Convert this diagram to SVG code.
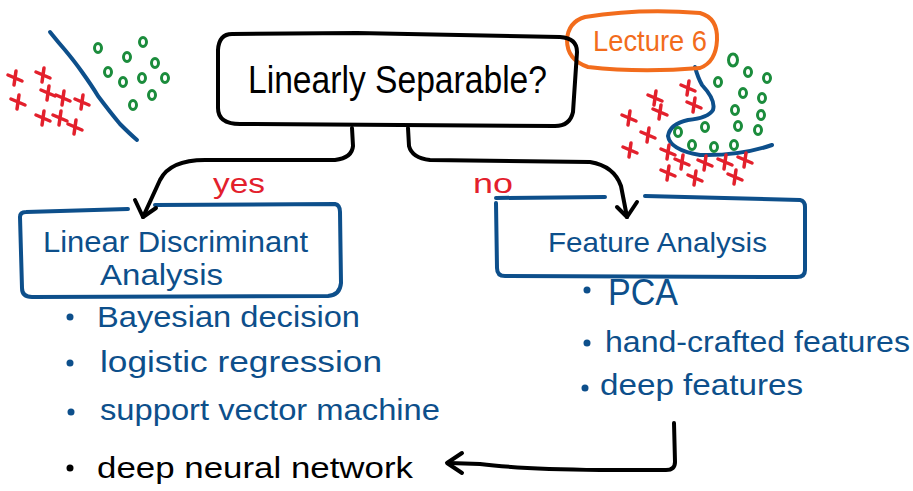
<svg xmlns="http://www.w3.org/2000/svg" width="913" height="491" viewBox="0 0 913 491">
<style>
.ink{fill:none;stroke-linecap:round;stroke-linejoin:round}
.k{stroke:#000;stroke-width:4}
.b{stroke:#0d4f8b;stroke-width:4}
.t{font-family:"Liberation Sans",Arial,sans-serif}
.bt{fill:#0d4f8b}
.red{stroke:#e3202c;stroke-width:3.5;fill:none;stroke-linecap:round}
.grn{stroke:#1b8c3c;stroke-width:3;fill:none}
</style>
<defs>
<path id="x" d="M-7,-3 L7,3 M1,-7 L-1,7"/>
<ellipse id="o" rx="3.5" ry="4.5"/>
</defs>
<rect width="913" height="491" fill="#fff"/>

<g id="scatter-left">
<path d="M50 32 Q58 42 65 50 Q75 62 82 72 Q92 86 98 96 Q110 112 120 124 Q130 134 137 140" class="ink" stroke="#0d4f8b" stroke-width="4"/>
<g class="grn">
<use href="#o" x="98" y="48"/><use href="#o" x="143" y="42"/><use href="#o" x="127" y="57"/><use href="#o" x="155" y="63"/>
<use href="#o" x="108" y="72"/><use href="#o" x="123" y="82"/><use href="#o" x="142" y="78"/><use href="#o" x="165" y="78"/>
<use href="#o" x="152" y="95"/><use href="#o" x="133" y="105"/>
</g>
<g class="red">
<use href="#x" x="15" y="78"/><use href="#x" x="43" y="75"/><use href="#x" x="18" y="102"/><use href="#x" x="48" y="93"/>
<use href="#x" x="63" y="98"/><use href="#x" x="82" y="102"/><use href="#x" x="43" y="118"/><use href="#x" x="60" y="118"/><use href="#x" x="75" y="127"/>
</g>
</g>

<g id="scatter-right">
<path d="M695 67 Q698 78 702 85 Q716 100 713 110 Q708 118 688 120 Q670 124 668 136 Q670 150 700 155 Q740 156 772 145" class="ink" stroke="#0d4f8b" stroke-width="4"/>
<g class="grn">
<ellipse cx="733" cy="60" rx="4.5" ry="6"/>
<use href="#o" x="748" y="72"/><use href="#o" x="767" y="78"/><use href="#o" x="718" y="82"/><use href="#o" x="743" y="93"/>
<use href="#o" x="762" y="98"/><use href="#o" x="735" y="110"/><use href="#o" x="761" y="115"/><use href="#o" x="678" y="132"/>
<use href="#o" x="705" y="127"/><use href="#o" x="738" y="126"/><use href="#o" x="758" y="130"/><use href="#o" x="692" y="145"/>
<use href="#o" x="714" y="147"/><use href="#o" x="734" y="145"/>
</g>
<g class="red">
<use href="#x" x="688" y="88"/><use href="#x" x="655" y="98"/><use href="#x" x="694" y="105"/><use href="#x" x="629" y="118"/>
<use href="#x" x="660" y="112"/><use href="#x" x="648" y="135"/><use href="#x" x="630" y="150"/><use href="#x" x="668" y="152"/>
<use href="#x" x="682" y="162"/><use href="#x" x="705" y="163"/><use href="#x" x="725" y="162"/><use href="#x" x="745" y="160"/>
<use href="#x" x="668" y="173"/><use href="#x" x="695" y="178"/><use href="#x" x="735" y="177"/>
</g>
</g>

<g id="lecture6">
<path d="M585 17 Q640 8 700 13 Q718 18 717 40 Q716 62 700 68 Q640 73 588 67 Q567 60 567 40 Q568 22 585 17 Z" class="ink" stroke="#f26c1c" stroke-width="4"/>
<text x="593" y="51" class="t" font-size="30" fill="#f26c1c" textLength="114" lengthAdjust="spacingAndGlyphs">Lecture 6</text>
</g>

<g id="linearly-separable">
<path d="M232 34 L357 33 L560 37 Q577 38 577 52 L573 112 Q570 126 555 126 L240 124 Q218 124 218 108 L218 50 Q219 34 232 34 Z" class="ink k"/>
<text x="248" y="93" class="t" font-size="38" fill="#000" textLength="299" lengthAdjust="spacingAndGlyphs">Linearly Separable?</text>
</g>

<g id="lda">
<path d="M155 205 L335 204 Q340 205 340 212 L341 283 Q340 295 328 296 L32 297 Q22 297 22 288 L20 217 Q20 212 26 212 L128 209" class="ink b"/>
<text x="43" y="252" class="t bt" font-size="30" textLength="265" lengthAdjust="spacingAndGlyphs">Linear Discriminant</text>
<text x="100" y="285" class="t bt" font-size="30" textLength="123" lengthAdjust="spacingAndGlyphs">Analysis</text>
</g>

<g id="lda-list">
<circle cx="70" cy="317" r="3.5" fill="#0d4f8b"/>
<text x="97" y="327" class="t bt" font-size="30" textLength="263" lengthAdjust="spacingAndGlyphs">Bayesian decision</text>
<circle cx="70" cy="363" r="3.5" fill="#0d4f8b"/>
<text x="100" y="372" class="t bt" font-size="30" textLength="282" lengthAdjust="spacingAndGlyphs">logistic regression</text>
<circle cx="71" cy="412" r="3.5" fill="#0d4f8b"/>
<text x="100" y="420" class="t bt" font-size="30" textLength="340" lengthAdjust="spacingAndGlyphs">support vector machine</text>
</g>

<g id="deep-neural-network">
<circle cx="70" cy="468" r="3.5" fill="#000"/>
<text x="97" y="478" class="t" font-size="30" fill="#000" textLength="316" lengthAdjust="spacingAndGlyphs">deep neural network</text>
</g>

<g id="feature-analysis">
<path d="M645 196 L800 200 Q805 201 805 207 L805 270 Q805 277 797 277 L505 276 Q497 276 497 268 L496 203" class="ink b"/>
<path d="M496 198 L605 197" class="ink b"/>
<text x="548" y="252" class="t bt" font-size="28" textLength="219" lengthAdjust="spacingAndGlyphs">Feature Analysis</text>
</g>

<g id="fa-list">
<circle cx="587" cy="290" r="3.5" fill="#0d4f8b"/>
<text x="608" y="305" class="t bt" font-size="36" textLength="70" lengthAdjust="spacingAndGlyphs">PCA</text>
<circle cx="587" cy="343" r="3.5" fill="#0d4f8b"/>
<text x="605" y="352" class="t bt" font-size="30" textLength="305" lengthAdjust="spacingAndGlyphs">hand-crafted features</text>
<circle cx="585" cy="388" r="3.5" fill="#0d4f8b"/>
<text x="600" y="395" class="t bt" font-size="30" textLength="203" lengthAdjust="spacingAndGlyphs">deep features</text>
</g>

<g id="connectors">
<path d="M352 128 L353 146 Q352 158 335 160 L205 160 Q170 160 160 180 L143 217" class="ink k"/>
<path d="M135 200 L143 217 L156 208" class="ink k"/>
<path d="M408 128 L409 146 Q412 158 430 160 L590 162 Q614 166 621 186 L627 217" class="ink k"/>
<path d="M617 207 L627 217 L637 202" class="ink k"/>
<path d="M674 423 L675 462 Q675 470 666 470 L600 470 Q520 469 480 464 L449 463" class="ink k"/>
<path d="M462 453 L447 463 L462 473" class="ink k"/>
<text x="213" y="193" class="t" font-size="28" fill="#e3202c" textLength="52" lengthAdjust="spacingAndGlyphs">yes</text>
<text x="473" y="193" class="t" font-size="28" fill="#e3202c" textLength="40" lengthAdjust="spacingAndGlyphs">no</text>
</g>
</svg>
